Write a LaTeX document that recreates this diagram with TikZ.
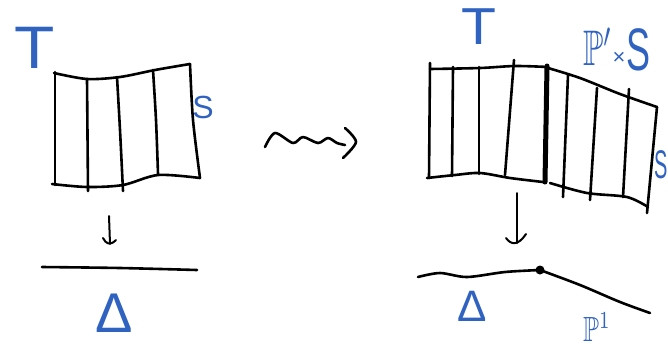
\documentclass[tikz,border=0pt]{standalone}
\usepackage{amssymb}
\usepackage{fontspec}
\setmainfont{Liberation Sans}
\usetikzlibrary{arrows.meta}
\definecolor{pen}{RGB}{48,98,192}
\tikzset{
  ink/.style={line width=2.6pt, line cap=round, line join=round, black},
  thick ink/.style={line width=5pt, line cap=round, black},
  lbl/.style={text=pen, inner sep=0pt, anchor=center},
}
\begin{document}
\begin{tikzpicture}[x=1pt,y=-1pt]
\useasboundingbox (0,0) rectangle (668,346);
% ---------- left picture ----------
\draw[ink] plot[smooth] coordinates {(54,73) (87,79) (120,77) (155,70) (190,64)};
\draw[ink] plot[smooth] coordinates {(52,184) (87,187) (123,185) (158,175) (200,178)};
\draw[ink] (55,72) -- (55,185);
\draw[ink] plot[smooth] coordinates {(190,64) (193,120) (200,178)};
\draw[ink] (87,79) -- (88,191);
\draw[ink] plot[smooth] coordinates {(117,77) (120,130) (123,191)};
\draw[ink] plot[smooth] coordinates {(153,70) (156,120) (158,174)};
\node[lbl, font=\fontsize{60}{60}\selectfont] (T1) at (35,48) {\scalebox{1.1}[1]{T}};
\node[lbl, font=\fontsize{32}{32}\selectfont] (S1) at (203,107) {S};
% arrow
\draw[ink, line width=2pt] (109,216) -- (110,244);
\draw[ink, line width=2pt] (103,238) .. controls (106,244) and (110,246) .. (116,240);
\draw[ink] plot[smooth] coordinates {(42,267) (120,268) (197,270)};
\node[lbl, font=\fontsize{56}{56}\selectfont] (D1) at (114,313) {Δ};
% ---------- squiggle ----------
\draw[ink] plot[smooth] coordinates {(265,147) (275,133) (293,143) (303,137) (318,143) (328,138) (337,143) (345,145)};
\draw[ink] plot[smooth] coordinates {(345,128) (356,142) (343,158)};
% ---------- right picture ----------
\draw[ink] plot[smooth] coordinates {(430,69) (480,68) (515,66) (548,67)};
\draw[ink] plot[smooth] coordinates {(427,178) (455,175) (480,173) (510,178) (543,182)};
\draw[ink] (430,63) -- (429,178);
\draw[ink] (453,67) -- (452,176);
\draw[ink] (479,67) -- (479,174);
\draw[ink] (514,60) -- (505,175);
\draw[thick ink] (547,66) -- (545,182);
\draw[ink] plot[smooth] coordinates {(548,68) (580,78) (620,94) (657,107)};
\draw[ink] plot[smooth] coordinates {(550,183) (587,193) (627,197) (648,207)};
\draw[ink] (568,75) -- (563,197);
\draw[ink] (597,88) -- (590,200);
\draw[ink] (629,89) -- (623,197);
\draw[ink] plot[smooth] coordinates {(657,107) (652,160) (647,213)};
\node[lbl, font=\fontsize{52}{52}\selectfont] (T2) at (479,27) {\scalebox{1.1}[1]{T}};
\node[lbl] (PS) at (598,47) {\scalebox{3.3}[5]{$\mathbb{P}^{\prime}$}};
\node[lbl, font=\fontsize{22}{22}\selectfont] (X) at (619,58) {×};
\node[lbl, font=\fontsize{60}{60}\selectfont] (S3) at (638,50) {\scalebox{0.6}[1]{S}};
\node[lbl, font=\fontsize{40}{40}\selectfont, anchor=east] (S2) at (668,165) {\scalebox{0.5}[1]{S}};
% arrow
\draw[ink, line width=2pt] (517,193) -- (517,243);
\draw[ink, line width=2pt] (506,238) .. controls (511,245) and (518,246) .. (526,234);
\draw[ink] plot[smooth] coordinates {(418,277) (440,273) (467,277) (505,272) (540,270)};
\draw[ink] plot[smooth] coordinates {(540,270) (580,285) (620,302) (650,313)};
\fill (540,270) circle (4.5pt);
\node[lbl, font=\fontsize{44}{44}\selectfont] (D2) at (472,306) {Δ};
\node[lbl] (P1) at (597,327) {\scalebox{2.6}[3.5]{$\mathbb{P}^{1}$}};
\end{tikzpicture}
\end{document}
